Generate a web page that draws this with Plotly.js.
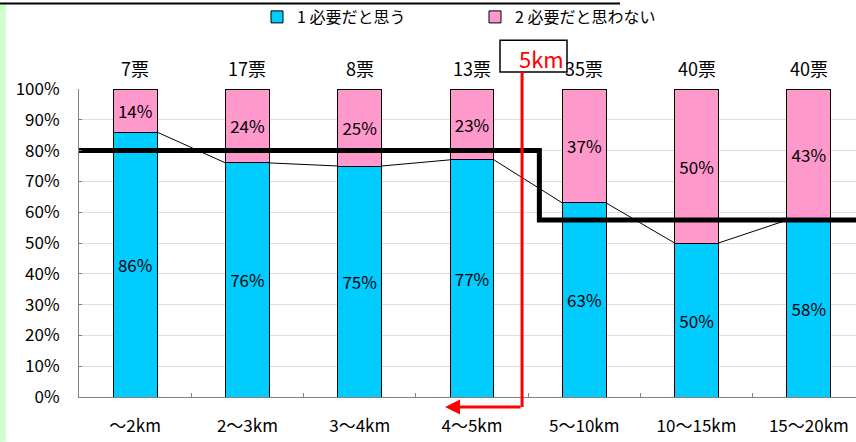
<!DOCTYPE html>
<html><head><meta charset="utf-8">
<script src="https://cdn.plot.ly/plotly-3.0.1.min.js"></script>
<style>html,body{margin:0;padding:0;background:#fff}#chart{width:856px;height:442px}</style>
</head><body><div id="chart"></div>
<script>
const categories = ['～2km','2～3km','3～4km','4～5km','5～10km','10～15km','15～20km'];
const voteLabels = ['7票','17票','8票','13票','35票','40票','40票'];
const agreeValues = [86, 76, 75, 77, 63, 50, 58];
const disagreeValues = [14, 24, 25, 23, 37, 50, 43];
const seriesNames = ['1 必要だと思う', '2 必要だと思わない'];
const thresholdLevels = [0.80, 0.575];
const thresholdStepX = 3.6;
const markerX = 3.446;
const arrowEndX = 2.76;
const markerLabel = '5km';

const FONT = '"Noto Sans CJK JP", "Noto Sans", sans-serif';
const W = 856, H = 442, ML = 79, MR = 0, MT = 87, MB = 45;
const xr = [-0.5, 6.42];
const yr = [0, 1];
const barW = 0.39;
const px2paperX = p => (p - ML) / (W - ML - MR);
const px2paperY = p => (H - MB - p) / (H - MT - MB);
const dx2paper = v => (v - xr[0]) / (xr[1] - xr[0]);

const idx = categories.map((_, i) => i);
const totals = agreeValues.map((v, i) => v + disagreeValues[i]);
const agreeFrac = agreeValues.map((v, i) => v / totals[i]);
const disFrac = disagreeValues.map((v, i) => v / totals[i]);

const traces = [
  {type:'bar', x: idx, y: agreeFrac, name: seriesNames[0], width: barW,
   marker:{color:'#00ccff', line:{color:'#000', width:1}},
   text: agreeValues.map(v => v + '%'), textposition:'inside', insidetextanchor:'middle',
   textangle: 0, constraintext:'none',
   textfont:{family:FONT, size:17, color:'#000'}, hoverinfo:'skip'},
  {type:'bar', x: idx, y: disFrac, name: seriesNames[1], width: barW,
   marker:{color:'#ff99cc', line:{color:'#000', width:1}},
   text: disagreeValues.map(v => v + '%'), textposition:'inside', insidetextanchor:'middle',
   textangle: 0, constraintext:'none',
   textfont:{family:FONT, size:17, color:'#000'}, hoverinfo:'skip'}
];

// series lines connecting bar tops
const slx = [], sly = [];
for (let i = 0; i < idx.length - 1; i++) {
  slx.push(idx[i] + barW/2, idx[i+1] - barW/2, null);
  sly.push(agreeFrac[i], agreeFrac[i+1], null);
}
traces.push({type:'scatter', mode:'lines', x: slx, y: sly, showlegend:false,
  line:{color:'#000', width:1}, hoverinfo:'skip', cliponaxis:false});

// threshold step line
traces.push({type:'scatter', mode:'lines',
  x:[xr[0], thresholdStepX, thresholdStepX, xr[1]],
  y:[thresholdLevels[0], thresholdLevels[0], thresholdLevels[1], thresholdLevels[1]],
  showlegend:false, line:{color:'#000', width:5}, hoverinfo:'skip'});

const annotations = voteLabels.map((t, i) => ({
  x: i, xref:'x', y: px2paperY(66), yref:'paper', yanchor:'middle', xanchor:'center',
  text: t, showarrow:false, font:{family:FONT, size:18, color:'#000'}
}));
annotations.push({
  x: px2paperX(566), xref:'paper', y: px2paperY(56), yref:'paper', xanchor:'right', yanchor:'middle',
  text: markerLabel, showarrow:false, font:{family:FONT, size:22, color:'#ff0000'}
});
annotations.push({
  x: arrowEndX, xref:'x', y: px2paperY(407), yref:'paper',
  ax: markerX, axref:'x', ay: px2paperY(407), ayref:'paper',
  showarrow:true, arrowhead:2, arrowsize:1, arrowwidth:3, arrowcolor:'#ff0000', text:''
});

const shapes = [
  {type:'rect', xref:'paper', yref:'paper', x0: px2paperX(0), x1: px2paperX(6), y0: px2paperY(442), y1: px2paperY(2),
   fillcolor:'#ccffcc', line:{width:0}, layer:'below'},
  {type:'line', xref:'paper', yref:'paper', x0: px2paperX(0), x1: px2paperX(620), y0: px2paperY(1), y1: px2paperY(1),
   line:{color:'#000', width:2}},
  {type:'rect', xref:'paper', yref:'paper', x0: px2paperX(500), x1: px2paperX(567), y0: px2paperY(70), y1: px2paperY(38),
   fillcolor:'#fff', line:{color:'#000', width:1.5}, layer:'below'},
  {type:'line', xref:'paper', yref:'paper', x0: dx2paper(markerX), x1: dx2paper(markerX),
   y0: px2paperY(70), y1: px2paperY(407), line:{color:'#ff0000', width:3}}
];

const layout = {
  width: W, height: H, margin:{l:ML, r:MR, t:MT, b:MB},
  barmode:'stack', paper_bgcolor:'#fff', plot_bgcolor:'#fff',
  font:{family:FONT, color:'#000'},
  showlegend:true,
  legend:{orientation:'h', x: px2paperX(257), xanchor:'left', y: px2paperY(14), yanchor:'middle',
    font:{family:FONT, size:16, color:'#000'}, entrywidth: 173, entrywidthmode:'pixels',
    bgcolor:'rgba(0,0,0,0)', traceorder:'normal'},
  xaxis:{range: xr, tickmode:'array', tickvals: idx, ticktext: categories, ticks:'',
    tickfont:{family:FONT, size:17, color:'#000'}, showgrid:false, zeroline:false,
    showline:true, linecolor:'#808080', linewidth:1, ticklabelstandoff: 14,
    minor:{tickvals: idx.slice(0, -1).map(i => i + 0.5), ticks:'inside', ticklen:4, tickcolor:'#808080'}},
  yaxis:{range: yr, tickmode:'array', tickvals:[0,0.1,0.2,0.3,0.4,0.5,0.6,0.7,0.8,0.9,1],
    tickformat:'.0%', tickfont:{family:FONT, size:17, color:'#000'},
    showgrid:true, gridcolor:'#dcdcdc', gridwidth:1, zeroline:false,
    showline:true, linecolor:'#808080', linewidth:1, ticks:'inside', ticklen:3, tickcolor:'#808080',
    ticklabelstandoff: 15},
  shapes, annotations
};

Plotly.newPlot('chart', traces, layout, {staticPlot:true, displayModeBar:false});
</script></body></html>
